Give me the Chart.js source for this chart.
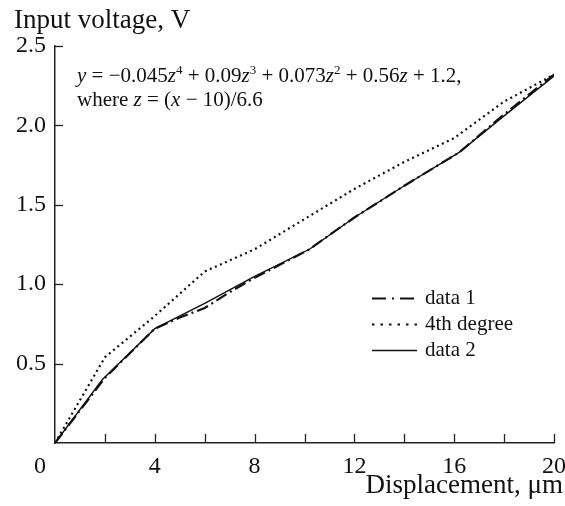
<!DOCTYPE html>
<html>
<head>
<meta charset="utf-8">
<script src="https://cdn.jsdelivr.net/npm/chart.js@4"></script>
<style>
  html, body { margin: 0; padding: 0; background: #fff; }
  #wrap { width: 565px; height: 506px; }
</style>
</head>
<body>
<div id="wrap"><canvas id="chart"></canvas></div>
<script>
// values (displacement in um, voltage in V)
const dispData1 = [0, 2, 4, 5, 6, 7, 8, 10.2, 11, 12, 14, 16.2, 18, 20];
const voltData1 = [0, 0.41, 0.72, 0.79, 0.85, 0.95, 1.04, 1.22, 1.31, 1.42, 1.62, 1.83, 2.07, 2.32];
const dispFit = [0, 2, 4, 6, 8, 10, 12, 14, 16, 18, 20];
const voltFit = [0, 0.54, 0.80, 1.08, 1.22, 1.41, 1.60, 1.77, 1.92, 2.15, 2.32];
const dispData2 = [0, 1.9, 4, 6, 8, 10.2, 12, 14, 16.2, 18, 20];
const voltData2 = [0, 0.40, 0.72, 0.88, 1.05, 1.22, 1.42, 1.62, 1.83, 2.06, 2.31];
const seriesNames = ["data 1", "4th degree", "data 2"];

const SERIF = '"Liberation Serif", "DejaVu Serif", serif';
const INK = "#111";

const toPoints = (xs, ys) => xs.map((x, i) => ({ x: x, y: ys[i] }));

// axis names, inward ticks, legend and the fit formula
const decorations = {
  id: "decorations",
  afterDraw(chart) {
    const ctx = chart.ctx;
    const area = chart.chartArea;
    const xs = chart.scales.x;
    const ys = chart.scales.y;
    ctx.save();

    // inward tick marks
    ctx.strokeStyle = "#222";
    ctx.lineWidth = 1.3;
    xs.ticks.forEach((t) => {
      if (t.value === 0) return;
      const px = Math.round(xs.getPixelForValue(t.value)) + 0.5;
      ctx.beginPath();
      ctx.moveTo(px, area.bottom);
      ctx.lineTo(px, area.bottom - 9);
      ctx.stroke();
    });
    ys.ticks.forEach((t) => {
      if (t.value === 0) return;
      const py = Math.round(ys.getPixelForValue(t.value)) + 0.5;
      ctx.beginPath();
      ctx.moveTo(area.left, py);
      ctx.lineTo(area.left + 8, py);
      ctx.stroke();
    });

    // axis names
    ctx.fillStyle = INK;
    ctx.font = "27px " + SERIF;
    ctx.textBaseline = "alphabetic";
    ctx.textAlign = "left";
    ctx.fillText("Input voltage, V", 14, 28);
    ctx.textAlign = "right";
    ctx.fillText("Displacement, \u03bcm", 563, 493);

    // legend
    ctx.textAlign = "left";
    ctx.textBaseline = "middle";
    ctx.font = "21px " + SERIF;
    const legendDash = [[14, 6, 2, 6], [2.5, 6], []];
    chart.data.datasets.forEach((ds, i) => {
      const y = 298 + i * 26;
      ctx.save();
      ctx.strokeStyle = ds.borderColor;
      ctx.lineWidth = ds.borderWidth;
      ctx.setLineDash(legendDash[i]);
      ctx.beginPath();
      ctx.moveTo(372, y + 0.5);
      ctx.lineTo(417, y + 0.5);
      ctx.stroke();
      ctx.restore();
      ctx.fillText(ds.label, 425, y);
    });

    // fitted polynomial
    const lines = [
      [["y", "i"], [" = \u22120.045", "n"], ["z", "i"], ["4", "s"], [" + 0.09", "n"], ["z", "i"], ["3", "s"],
       [" + 0.073", "n"], ["z", "i"], ["2", "s"], [" + 0.56", "n"], ["z", "i"], [" + 1.2,", "n"]],
      [["where ", "n"], ["z", "i"], [" = (", "n"], ["x", "i"], [" \u2212 10)/6.6", "n"]]
    ];
    ctx.textBaseline = "alphabetic";
    lines.forEach((segs, row) => {
      let x = 77;
      const base = 82 + row * 24;
      segs.forEach(([txt, kind]) => {
        if (kind === "i") ctx.font = "italic 21px " + SERIF;
        else if (kind === "s") ctx.font = "13px " + SERIF;
        else ctx.font = "21px " + SERIF;
        ctx.fillText(txt, x, kind === "s" ? base - 8 : base);
        x += ctx.measureText(txt).width;
      });
    });
    ctx.restore();
  }
};

new Chart(document.getElementById("chart"), {
  type: "line",
  data: {
    datasets: [
      {
        label: seriesNames[0],
        data: toPoints(dispData1, voltData1),
        borderColor: INK,
        borderWidth: 2.2,
        borderDash: [12, 4, 2, 4]
      },
      {
        label: seriesNames[1],
        data: toPoints(dispFit, voltFit),
        borderColor: INK,
        borderWidth: 2.2,
        borderDash: [2, 3.5]
      },
      {
        label: seriesNames[2],
        data: toPoints(dispData2, voltData2),
        borderColor: INK,
        borderWidth: 1.4
      }
    ]
  },
  options: {
    responsive: true,
    maintainAspectRatio: false,
    animation: false,
    elements: { point: { radius: 0 }, line: { tension: 0, fill: false } },
    layout: { padding: { top: 46, left: 13, right: 11, bottom: 0 } },
    plugins: { legend: { display: false }, tooltip: { enabled: false } },
    scales: {
      x: {
        type: "linear",
        min: 0,
        max: 20,
        grid: { display: false, drawTicks: false },
        border: { display: true, color: "#222", width: 1.5 },
        ticks: {
          stepSize: 2,
          padding: 9,
          color: INK,
          font: { family: SERIF, size: 24 },
          maxRotation: 0,
          autoSkip: false,
          callback: (v) => (v % 4 !== 0 ? "" : v === 0 ? "0\u2002\u2002\u2005" : String(v))
        },
        afterFit: (s) => { s.height = 63; s.paddingLeft = 0; s.paddingRight = 0; }
      },
      y: {
        min: 0,
        max: 2.5,
        grid: { display: false, drawTicks: false },
        border: { display: true, color: "#222", width: 1.5 },
        ticks: {
          stepSize: 0.5,
          padding: 9,
          color: INK,
          font: { family: SERIF, size: 24 },
          callback: (v) => (v === 0 ? "" : v.toFixed(1))
        },
        afterFit: (s) => { s.width = 42; }
      }
    }
  },
  plugins: [decorations]
});
</script>
</body>
</html>
